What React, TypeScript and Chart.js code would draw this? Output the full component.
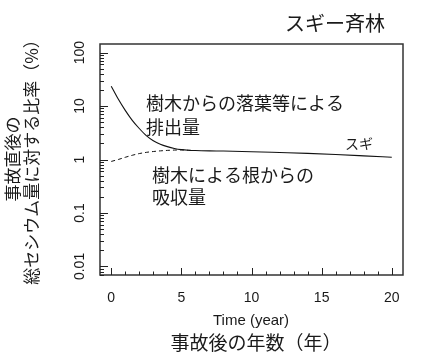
import React, { useEffect, useRef } from "react";
import { Chart, registerables } from "chart.js";

Chart.register(...registerables);

// ---- data ----
const years = [0, 0.5, 1, 1.5, 2, 2.5, 3, 3.5, 4, 4.5, 5, 5.5, 6, 7, 8, 10, 12, 14, 16, 18, 20];
const dischargeSugi = [23.5, 13.5, 8.3, 5.4, 3.8, 2.8, 2.25, 1.93, 1.74, 1.61, 1.53, 1.49, 1.47, 1.45, 1.44, 1.4, 1.35, 1.3, 1.24, 1.17, 1.1];
const uptakeYears = [0, 0.5, 1, 1.5, 2, 2.5, 3, 3.5, 4, 4.5, 5, 5.5, 6];
const uptakeSugi = [0.92, 1.0, 1.1, 1.2, 1.29, 1.36, 1.41, 1.45, 1.48, 1.5, 1.51, 1.49, 1.47];

const xTicks = [0, 5, 10, 15, 20];
const xTickLabels = ["0", "5", "10", "15", "20"];
const xMinorTicks = [0, 1, 2, 3, 4, 5, 6, 7, 8, 9, 10, 11, 12, 13, 14, 15, 16, 17, 18, 19, 20];
const yTicks = [0.01, 0.1, 1, 10, 100];
const yTickLabels = ["0.01", "0.1", "1", "10", "100"];

const title = "スギー斉林";
const yTitleLine1 = "事故直後の";
const yTitleLine2 = "総セシウム量に対する比率（%）";
const xTitleEn = "Time (year)";
const xTitleJa = "事故後の年数（年）";
const noteDischarge1 = "樹木からの落葉等による";
const noteDischarge2 = "排出量";
const noteUptake1 = "樹木による根からの";
const noteUptake2 = "吸収量";
const seriesLabel = "スギ";

const LATIN = "'Liberation Sans', Arial, 'Noto Sans CJK JP', sans-serif";
const CJK = "'Noto Sans CJK JP', 'Noto Sans CJK SC', sans-serif";
const INK = "#1a1a1a";

const decorPlugin = {
  id: "decor",
  afterDraw(chart: any) {
    const { ctx, chartArea: a, scales } = chart;
    const xs = scales.x;
    const ys = scales.y;
    ctx.save();

    // frame
    ctx.strokeStyle = "#333";
    ctx.lineWidth = 1.5;
    ctx.strokeRect(a.left, a.top, a.right - a.left, a.bottom - a.top);

    // x ticks (inward)
    ctx.lineWidth = 1;
    ctx.strokeStyle = "#222";
    ctx.beginPath();
    xMinorTicks.forEach((v) => {
      const px = Math.round(xs.getPixelForValue(v)) + 0.5;
      const len = xTicks.includes(v) ? 7 : 3.5;
      ctx.moveTo(px, a.bottom);
      ctx.lineTo(px, a.bottom - len);
    });
    // y ticks (inward), decades + minor
    for (let d = -3; d <= 2; d++) {
      for (let m = 1; m <= 9; m++) {
        const v = m * Math.pow(10, d);
        if (v < ys.min || v > ys.max) continue;
        const py = Math.round(ys.getPixelForValue(v)) + 0.5;
        const len = m === 1 ? 8 : 4;
        ctx.moveTo(a.left, py);
        ctx.lineTo(a.left + len, py);
      }
    }
    ctx.stroke();

    // x tick labels
    ctx.fillStyle = INK;
    ctx.font = `14px ${LATIN}`;
    ctx.textAlign = "center";
    ctx.textBaseline = "middle";
    xTicks.forEach((v, i) => {
      ctx.fillText(xTickLabels[i], xs.getPixelForValue(v), 298);
    });

    // y tick labels (rotated)
    yTicks.forEach((v, i) => {
      ctx.save();
      ctx.translate(80, ys.getPixelForValue(v));
      ctx.rotate(-Math.PI / 2);
      ctx.fillText(yTickLabels[i], 0, 0);
      ctx.restore();
    });

    // x titles
    ctx.font = `15px ${LATIN}`;
    ctx.fillText(xTitleEn, 251, 321);
    ctx.font = `19px ${CJK}`;
    ctx.fillText(xTitleJa, 256, 343);

    // y title (two rotated lines)
    ctx.font = `17px ${CJK}`;
    ctx.save();
    ctx.translate(13, 159);
    ctx.rotate(-Math.PI / 2);
    ctx.fillText(yTitleLine1, 0, 0);
    ctx.restore();
    ctx.save();
    ctx.translate(32, 158);
    ctx.rotate(-Math.PI / 2);
    ctx.fillText(yTitleLine2, 0, 0);
    ctx.restore();

    // title
    ctx.font = `20px ${CJK}`;
    ctx.fillText(title, 335, 23);

    // annotations
    ctx.textAlign = "left";
    ctx.font = `18px ${CJK}`;
    ctx.fillText(noteDischarge1, 146, 103);
    ctx.fillText(noteDischarge2, 146, 127);
    ctx.fillText(noteUptake1, 152, 175);
    ctx.fillText(noteUptake2, 152, 197);
    ctx.font = `14px ${CJK}`;
    ctx.fillText(seriesLabel, 345, 144);

    ctx.restore();
  },
};

export default function App() {
  const ref = useRef<HTMLCanvasElement | null>(null);

  useEffect(() => {
    if (!ref.current) return;
    const chart = new Chart(ref.current, {
      type: "line",
      data: {
        datasets: [
          {
            label: "排出量",
            data: years.map((x, i) => ({ x, y: dischargeSugi[i] })),
            borderColor: "#111",
            borderWidth: 1.1,
            pointRadius: 0,
            cubicInterpolationMode: "monotone",
            fill: false,
          },
          {
            label: "吸収量",
            data: uptakeYears.map((x, i) => ({ x, y: uptakeSugi[i] })),
            borderColor: "#111",
            borderWidth: 1,
            borderDash: [4, 3],
            pointRadius: 0,
            cubicInterpolationMode: "monotone",
            fill: false,
          },
        ],
      },
      options: {
        animation: false,
        responsive: false,
        devicePixelRatio: 1,
        layout: { padding: { left: 100, right: 27, top: 44, bottom: 85 } },
        scales: {
          x: { type: "linear", min: -0.8, max: 20.8, display: false },
          y: { type: "logarithmic", min: Math.pow(10, -2.16), max: Math.pow(10, 2.16), display: false },
        },
        plugins: { legend: { display: false }, tooltip: { enabled: false }, title: { display: false } },
      },
      plugins: [decorPlugin],
    } as any);
    return () => chart.destroy();
  }, []);

  return (
    <div style={{ position: "fixed", left: 0, top: 0, width: 430, height: 360, background: "#fff" }}>
      <canvas ref={ref} width={430} height={360} style={{ width: 430, height: 360, display: "block" }} />
    </div>
  );
}
